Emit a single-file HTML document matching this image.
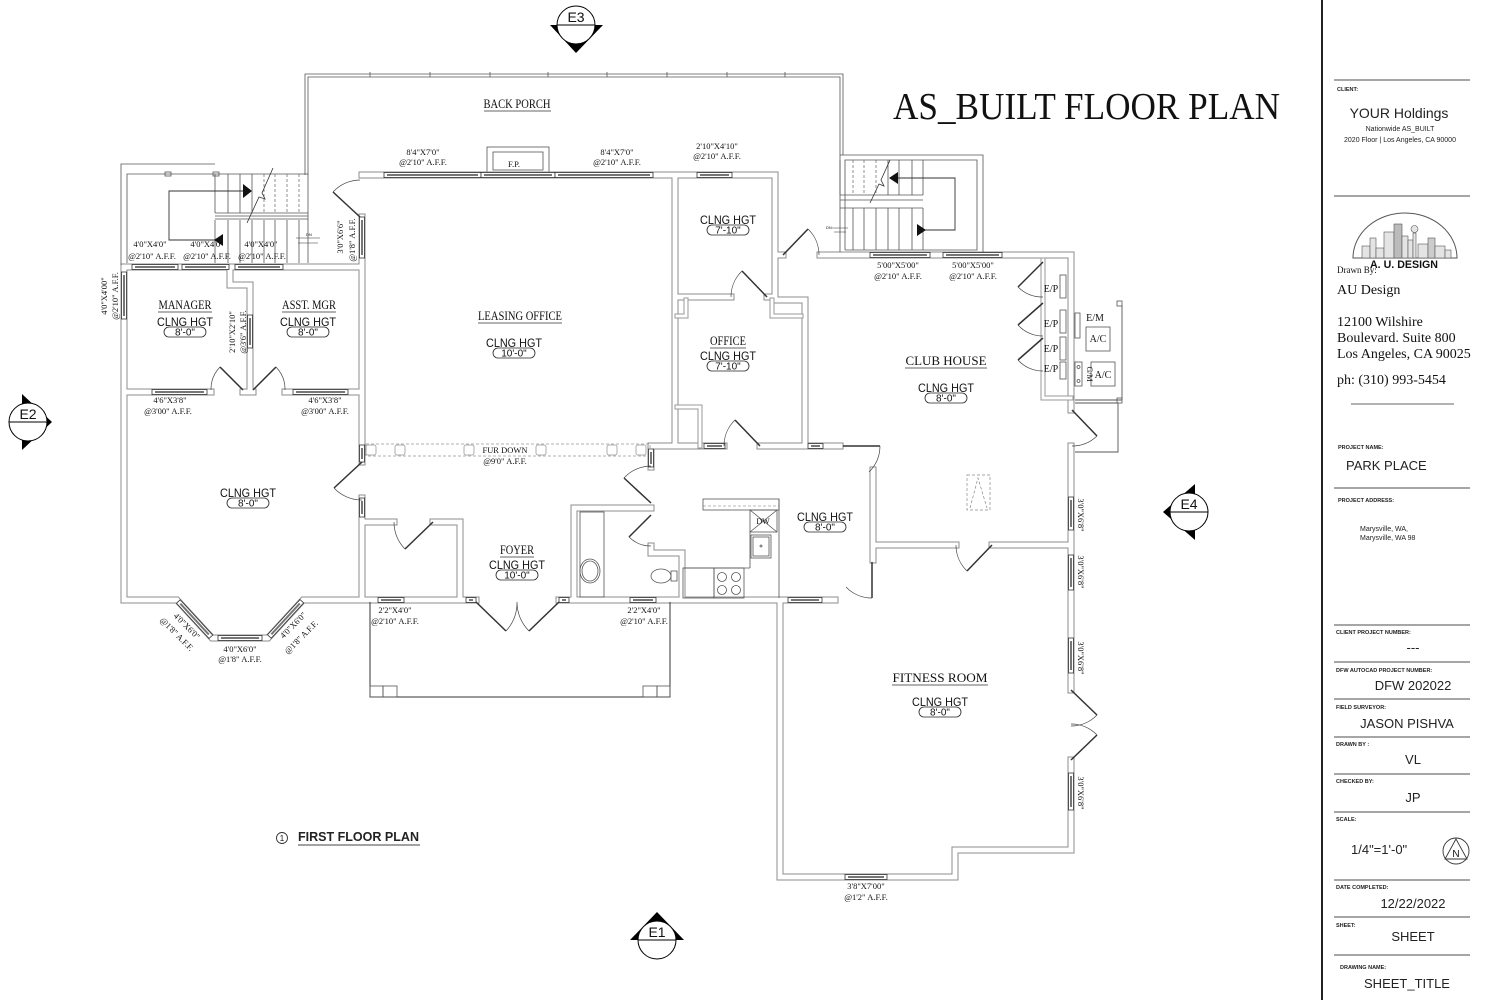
<!DOCTYPE html>
<html><head><meta charset="utf-8">
<style>
html,body{margin:0;padding:0;background:#fff;width:1499px;height:1000px;overflow:hidden}
svg{display:block}
.d{font-family:"Liberation Serif",serif;font-size:8.5px;fill:#111;text-anchor:middle}
.rn{font-family:"Liberation Serif",serif;font-size:13px;fill:#111;text-anchor:middle}
.cl{font-family:"Liberation Sans",sans-serif;font-size:12px;fill:#111;text-anchor:middle}
.cv{font-family:"Liberation Sans",sans-serif;font-size:10px;fill:#111;text-anchor:middle}
.lb{font-family:"Liberation Sans",sans-serif;font-size:5.5px;font-weight:bold;fill:#222}
.tv{font-family:"Liberation Sans",sans-serif;font-size:13px;fill:#222;text-anchor:middle}
.lf{fill:none;stroke:#333;stroke-width:1.5}
.ar{fill:none;stroke:#444;stroke-width:.7}
.tl{fill:none;stroke:#555;stroke-width:.8}
.win{fill:#fff;stroke:#333;stroke-width:.8}
.wc{fill:#777}
.pl{fill:none;stroke:#222;stroke-width:.8}
</style></head><body>
<svg width="1499" height="1000" viewBox="0 0 1499 1000">
<defs>
<path id="W" d="M124,600 V267 H362 M362,175 H775 V300 H805 V446 M362,217 V462 M362,498 V600 M124,600 H177 L212,638 H268 L303,600 H476 M559,600 H835 M675,175 V446 M675,297 H731 M767,297 H775 M651,446 H724 M760,446 H840 M651,446 V467 M651,546 V553 H682 V600 M775,255 H783 M820,255 H1071 V410 M1071,446 V690 M1071,760 V850 H955 V877 H780 V600 M873,470 V560 M873,545 H956 M992,545 H1071 M230,267 V285 H250 V392 M124,392 H211 M243,392 H253 M285,392 H362 M574,600 V508 H651 M366,522 H394 M433,522 H460 V600"/>
<path id="T" d="M1043,260 V398 H1071 M677,407 H700 V446 M677,316 H686 V300 M772,300 V316 H801"/>
</defs>
<rect width="1499" height="1000" fill="#fff"/>

<!-- back porch -->
<path d="M305,175 V74 H843 V155" class="tl"/>
<path d="M308,175 V77 H840 V155" class="tl"/>
<path d="M370,72V77M430,72V77M490,72V77M548,72V77M607,72V77M667,72V77M727,72V77M785,72V77" stroke="#555" stroke-width=".8"/>
<rect x="487" y="147" width="62" height="26" class="tl"/>
<rect x="493" y="152" width="50" height="18" class="tl"/>

<!-- walls -->
<use href="#W" fill="none" stroke="#8c8c8c" stroke-width="7" stroke-linecap="square"/>
<use href="#W" fill="none" stroke="#fff" stroke-width="5" stroke-linecap="square"/>
<use href="#T" fill="none" stroke="#999" stroke-width="5" stroke-linecap="square"/>
<use href="#T" fill="none" stroke="#fff" stroke-width="3" stroke-linecap="square"/>

<!-- left stair -->
<path d="M121,265 V164 H215" class="tl"/>
<path d="M127,263 V174 H308 V263" class="tl"/>
<rect x="165" y="172" width="6" height="4" class="tl"/><rect x="213" y="172" width="6" height="4" class="tl"/>
<path d="M215,174V213M228,174V213M240,174V213M252,174V213M215,220V263M228,220V263M240,220V263M252,220V263M264,220V263M275,220V263M287,220V263M299,220V263" stroke="#555" stroke-width=".8"/>
<path d="M264,174V213M275,174V213M287,174V213M299,174V213" stroke="#777" stroke-width=".8" stroke-dasharray="3,2"/>
<path d="M215,213H308M215,216H308M215,219H308" stroke="#555" stroke-width=".8"/>
<path d="M247,191 H169 V240 H218" fill="none" stroke="#333" stroke-width=".9"/>
<polygon points="243,184 252,191 243,198" fill="#111"/>
<polygon points="223,234 214,240 223,246" fill="#111"/>
<path d="M247,223 L259,197 L265,199 L262,193 L273,168" fill="none" stroke="#333" stroke-width=".8"/>
<path d="M296,238H320M298,243H318" stroke="#333" stroke-width=".6"/>
<text x="306" y="236" font-family="Liberation Sans,sans-serif" font-size="4" fill="#111">DN</text>

<!-- right stair -->
<path d="M840,252 V155 H983 V252" class="tl"/>
<path d="M845,250 V160 H977 V250 H845" class="tl"/>
<path d="M840,160V195M888,160V195M899,160V195M912,160V195M923,160V195M853,208V250M864,208V250M876,208V250M888,208V250M899,208V250M912,208V250M923,208V250" stroke="#555" stroke-width=".8"/>
<path d="M853,160V195M864,160V195M876,160V195" stroke="#777" stroke-width=".8" stroke-dasharray="3,2"/>
<path d="M840,195H923M840,200H923M840,208H923" stroke="#555" stroke-width=".8"/>
<path d="M893,178 H955 V230 H920" fill="none" stroke="#333" stroke-width=".9"/>
<polygon points="889,178 898,172 898,184" fill="#111"/>
<polygon points="926,230 917,224 917,236" fill="#111"/>
<path d="M870,203 L879,184 L884,186 L881,180 L890,160" fill="none" stroke="#333" stroke-width=".8"/>
<path d="M832,228H848M834,232H846" stroke="#333" stroke-width=".6"/>
<text x="826" y="229" font-family="Liberation Sans,sans-serif" font-size="4" fill="#111">DN</text>

<!-- fur down -->
<rect x="366" y="444" width="284" height="12" fill="none" stroke="#999" stroke-width=".8" stroke-dasharray="3,2"/>
<g fill="none" stroke="#999" stroke-width=".8">
<rect x="366" y="445" width="10" height="10" rx="2"/><rect x="395" y="445" width="10" height="10" rx="2"/><rect x="464" y="445" width="10" height="10" rx="2"/><rect x="536" y="445" width="10" height="10" rx="2"/><rect x="607" y="445" width="10" height="10" rx="2"/><rect x="636" y="445" width="10" height="10" rx="2"/>
</g>

<!-- front porch -->
<path d="M370,602 V697 H670 V602" fill="none" stroke="#333" stroke-width="1"/>
<g class="tl"><rect x="370" y="686" width="13" height="11"/><rect x="383" y="686" width="14" height="11"/><rect x="643" y="686" width="14" height="11"/><rect x="657" y="686" width="13" height="11"/></g>

<!-- bath / kitchen -->
<rect x="580" y="512" width="24" height="85" class="tl"/>
<ellipse cx="590" cy="571" rx="10" ry="12" class="tl"/><ellipse cx="590" cy="571" rx="8" ry="10" class="tl"/>
<ellipse cx="661" cy="576" rx="10" ry="7" class="tl"/><rect x="671" y="571" width="6" height="10" class="tl"/>
<rect x="703" y="499" width="76" height="11" class="tl"/>
<line x1="703" y1="506" x2="779" y2="506" stroke="#777" stroke-width=".6" stroke-dasharray="3,2"/>
<rect x="750" y="510" width="27" height="22" class="tl"/>
<path d="M750,510L777,532M777,510L750,532" class="tl"/>
<text x="763" y="524" font-family="Liberation Serif,serif" font-size="8" fill="#111" text-anchor="middle">DW</text>
<rect x="751" y="535" width="20" height="23" class="tl"/><rect x="753" y="537" width="16" height="19" class="tl"/><circle cx="761" cy="546" r="1" class="tl"/>
<path d="M779,499V598M750,532V568M683,568H750" class="tl"/>
<rect x="683" y="568" width="31" height="30" class="tl"/><rect x="714" y="568" width="30" height="30" class="tl"/>
<g class="tl"><circle cx="722" cy="577" r="4.5"/><circle cx="736" cy="577" r="4.5"/><circle cx="722" cy="590" r="4.5"/><circle cx="736" cy="590" r="4.5"/></g>

<!-- skylight -->
<rect x="967" y="475" width="23" height="35" fill="none" stroke="#888" stroke-width=".7" stroke-dasharray="3,2"/>
<path d="M970,508L978,478L987,508" fill="none" stroke="#888" stroke-width=".7" stroke-dasharray="3,2"/>

<!-- E/P & A/C -->
<g class="tl"><rect x="1060" y="275" width="6" height="23"/><rect x="1060" y="310" width="6" height="23"/><rect x="1060" y="337" width="6" height="23"/><rect x="1060" y="362" width="6" height="17"/>
<rect x="1075" y="313" width="5" height="25"/><rect x="1086" y="327" width="24" height="24"/><rect x="1091" y="362" width="24" height="24"/><rect x="1075" y="362" width="7" height="24"/>
<circle cx="1078.5" cy="367" r="1.5"/><circle cx="1078.5" cy="381" r="1.5"/>
<rect x="1117" y="301" width="5" height="5"/><rect x="1117" y="398" width="5" height="5"/></g>
<path d="M1122,305V400M1075,400H1122M1075,403H1118V452H1075" fill="none" stroke="#555" stroke-width=".9"/>

<!-- windows horizontal -->
<g>
<rect class="win" x="384" y="172.5" width="97" height="5"/><rect class="wc" x="387" y="174" width="91" height="2"/>
<rect class="win" x="481" y="172.5" width="74" height="5"/><rect class="wc" x="484" y="174" width="68" height="2"/>
<rect class="win" x="555" y="172.5" width="98" height="5"/><rect class="wc" x="558" y="174" width="92" height="2"/>
<rect class="win" x="697" y="172.5" width="35" height="5"/><rect class="wc" x="700" y="174" width="29" height="2"/>
<rect class="win" x="132" y="264.5" width="46" height="5"/><rect class="wc" x="135" y="266" width="40" height="2"/>
<rect class="win" x="182" y="264.5" width="47" height="5"/><rect class="wc" x="185" y="266" width="41" height="2"/>
<rect class="win" x="235" y="264.5" width="48" height="5"/><rect class="wc" x="238" y="266" width="42" height="2"/>
<rect class="win" x="152" y="389.5" width="55" height="5"/><rect class="wc" x="155" y="391" width="49" height="2"/>
<rect class="win" x="293" y="389.5" width="55" height="5"/><rect class="wc" x="296" y="391" width="49" height="2"/>
<rect class="win" x="378" y="597.5" width="26" height="5"/><rect class="wc" x="381" y="599" width="20" height="2"/>
<rect class="win" x="630" y="597.5" width="26" height="5"/><rect class="wc" x="633" y="599" width="20" height="2"/>
<rect class="win" x="466" y="597.5" width="10" height="5"/><rect class="wc" x="469" y="599" width="4" height="2"/>
<rect class="win" x="559" y="597.5" width="10" height="5"/><rect class="wc" x="562" y="599" width="4" height="2"/>
<rect class="win" x="218" y="635.5" width="44" height="5"/><rect class="wc" x="221" y="637" width="38" height="2"/>
<rect class="win" x="704" y="443.5" width="21" height="5"/><rect class="wc" x="707" y="445" width="15" height="2"/>
<rect class="win" x="808" y="443.5" width="15" height="5"/><rect class="wc" x="811" y="445" width="9" height="2"/>
<rect class="win" x="870" y="252.5" width="60" height="5"/><rect class="wc" x="873" y="254" width="54" height="2"/>
<rect class="win" x="943" y="252.5" width="59" height="5"/><rect class="wc" x="946" y="254" width="53" height="2"/>
<rect class="win" x="788" y="597.5" width="34" height="5"/><rect class="wc" x="791" y="599" width="28" height="2"/>
<rect class="win" x="845" y="874.5" width="42" height="5"/><rect class="wc" x="848" y="876" width="36" height="2"/>
</g>
<!-- windows vertical -->
<g>
<rect class="win" x="121.5" y="272" width="5" height="47"/><rect class="wc" x="123" y="275" width="2" height="41"/>
<rect class="win" x="247.5" y="315" width="5" height="33"/><rect class="wc" x="249" y="318" width="2" height="27"/>
<rect class="win" x="359.5" y="217" width="5" height="41"/><rect class="wc" x="361" y="220" width="2" height="35"/>
<rect class="win" x="359.5" y="445" width="5" height="17"/><rect class="wc" x="361" y="448" width="2" height="11"/>
<rect class="win" x="359.5" y="498" width="5" height="19"/><rect class="wc" x="361" y="501" width="2" height="13"/>
<rect class="win" x="648.5" y="449" width="5" height="18"/><rect class="wc" x="650" y="452" width="2" height="12"/>
<rect class="win" x="1068.5" y="497" width="5" height="33"/><rect class="wc" x="1070" y="500" width="2" height="27"/>
<rect class="win" x="1068.5" y="555" width="5" height="35"/><rect class="wc" x="1070" y="558" width="2" height="29"/>
<rect class="win" x="1068.5" y="638" width="5" height="35"/><rect class="wc" x="1070" y="641" width="2" height="29"/>
<rect class="win" x="1068.5" y="773" width="5" height="37"/><rect class="wc" x="1070" y="776" width="2" height="31"/>
</g>
<g transform="translate(177,600) rotate(47.4)"><rect class="win" x="2" y="-2.5" width="48" height="5"/><rect class="wc" x="5" y="-1" width="42" height="2"/></g>
<g transform="translate(268,638) rotate(-47.4)"><rect class="win" x="2" y="-2.5" width="48" height="5"/><rect class="wc" x="5" y="-1" width="42" height="2"/></g>

<!-- doors -->
<path class="lf" d="M360,217 L333,192 M243,390 L220,367 M253,390 L276,367 M362,462 L334,488 M433,522 L405,549 M476,602 L506,631 M559,602 L529,631 M651,503 L624,478 M651,515 L629,537 M760,446 L735,420 M767,297 L742,271 M783,255 L808,229 M843,446 L880,446 M872,562 L872,598 M992,545 L967,571 M1072,410 L1097,436 M1071,690 L1097,715 M1071,760 L1097,735 M1043,262 L1018,287 M1043,303 L1018,325 M1043,338 L1018,360"/>
<path class="ar" d="M333,192 A37,37 0 0 1 360,180 M220,367 A32,32 0 0 0 211,390 M276,367 A32,32 0 0 1 285,390 M334,488 A38,38 0 0 0 362,500 M405,549 A39,39 0 0 1 394,522 M506,631 A42,42 0 0 0 517,602 M529,631 A42,42 0 0 1 517,602 M624,478 A37,37 0 0 1 651,466 M629,537 A31,31 0 0 0 651,546 M735,420 A36,36 0 0 0 724,446 M742,271 A36,36 0 0 0 731,297 M808,229 A36,36 0 0 1 819,255 M880,446 A37,37 0 0 1 869,472 M872,598 A36,36 0 0 1 846,587 M967,571 A36,36 0 0 1 956,545 M1097,436 A36,36 0 0 1 1072,446 M1097,715 A36,36 0 0 1 1071,726 M1097,735 A36,36 0 0 0 1071,724 M1018,287 A35,35 0 0 0 1043,297 M1018,325 A33,33 0 0 0 1043,336 M1018,360 A33,33 0 0 0 1043,371"/>

<!-- room names -->
<g class="rn">
<text x="517" y="108" textLength="67" lengthAdjust="spacingAndGlyphs">BACK PORCH</text>
<text x="520" y="320" textLength="84" lengthAdjust="spacingAndGlyphs">LEASING OFFICE</text>
<text x="185" y="309" textLength="53" lengthAdjust="spacingAndGlyphs">MANAGER</text>
<text x="309" y="309" textLength="54" lengthAdjust="spacingAndGlyphs">ASST. MGR</text>
<text x="728" y="345" textLength="36" lengthAdjust="spacingAndGlyphs">OFFICE</text>
<text x="517" y="554" textLength="34" lengthAdjust="spacingAndGlyphs">FOYER</text>
<text x="946" y="365" textLength="81" lengthAdjust="spacingAndGlyphs">CLUB HOUSE</text>
<text x="940" y="682" textLength="95" lengthAdjust="spacingAndGlyphs">FITNESS ROOM</text>
</g>
<path d="M484,111H551M478,323H562M158,312H212M282,312H336M710,348H746M500,557H534M905,368H987M892,685H988" stroke="#333" stroke-width=".8"/>

<!-- ceiling heights -->
<g>
<text class="cl" x="185" y="326" textLength="56" lengthAdjust="spacingAndGlyphs">CLNG HGT</text><rect class="pl" x="164" y="327" width="42" height="10" rx="5"/><text class="cv" x="185" y="335.5">8'-0"</text>
<text class="cl" x="308" y="326" textLength="56" lengthAdjust="spacingAndGlyphs">CLNG HGT</text><rect class="pl" x="287" y="327" width="42" height="10" rx="5"/><text class="cv" x="308" y="335.5">8'-0"</text>
<text class="cl" x="248" y="497" textLength="56" lengthAdjust="spacingAndGlyphs">CLNG HGT</text><rect class="pl" x="227" y="498" width="42" height="10" rx="5"/><text class="cv" x="248" y="506.5">8'-0"</text>
<text class="cl" x="514" y="347" textLength="56" lengthAdjust="spacingAndGlyphs">CLNG HGT</text><rect class="pl" x="493" y="348" width="42" height="10" rx="5"/><text class="cv" x="514" y="356.5">10'-0"</text>
<text class="cl" x="728" y="224" textLength="56" lengthAdjust="spacingAndGlyphs">CLNG HGT</text><rect class="pl" x="707" y="225" width="42" height="10" rx="5"/><text class="cv" x="728" y="233.5">7'-10"</text>
<text class="cl" x="728" y="360" textLength="56" lengthAdjust="spacingAndGlyphs">CLNG HGT</text><rect class="pl" x="707" y="361" width="42" height="10" rx="5"/><text class="cv" x="728" y="369.5">7'-10"</text>
<text class="cl" x="517" y="569" textLength="56" lengthAdjust="spacingAndGlyphs">CLNG HGT</text><rect class="pl" x="496" y="570" width="42" height="10" rx="5"/><text class="cv" x="517" y="578.5">10'-0"</text>
<text class="cl" x="825" y="521" textLength="56" lengthAdjust="spacingAndGlyphs">CLNG HGT</text><rect class="pl" x="804" y="522" width="42" height="10" rx="5"/><text class="cv" x="825" y="530.5">8'-0"</text>
<text class="cl" x="946" y="392" textLength="56" lengthAdjust="spacingAndGlyphs">CLNG HGT</text><rect class="pl" x="925" y="393" width="42" height="10" rx="5"/><text class="cv" x="946" y="401.5">8'-0"</text>
<text class="cl" x="940" y="706" textLength="56" lengthAdjust="spacingAndGlyphs">CLNG HGT</text><rect class="pl" x="919" y="707" width="42" height="10" rx="5"/><text class="cv" x="940" y="715.5">8'-0"</text>
</g>

<!-- dimension labels -->
<g class="d">
<text x="514" y="167">F.P.</text>
<text x="423" y="155">8'4"X7'0"</text><text x="423" y="165">@2'10" A.F.F.</text>
<text x="617" y="155">8'4"X7'0"</text><text x="617" y="165">@2'10" A.F.F.</text>
<text x="717" y="149">2'10"X4'10"</text><text x="717" y="159">@2'10" A.F.F.</text>
<text x="150" y="247">4'0"X4'0"</text><text x="152" y="259">@2'10" A.F.F.</text>
<text x="207" y="247">4'0"X4'0"</text><text x="207" y="259">@2'10" A.F.F.</text>
<text x="261" y="247">4'0"X4'0"</text><text x="262" y="259">@2'10" A.F.F.</text>
<text x="170" y="403">4'6"X3'8"</text><text x="168" y="414">@3'00" A.F.F.</text>
<text x="325" y="403">4'6"X3'8"</text><text x="325" y="414">@3'00" A.F.F.</text>
<text x="240" y="652">4'0"X6'0"</text><text x="240" y="662">@1'8" A.F.F.</text>
<text x="395" y="613">2'2"X4'0"</text><text x="395" y="624">@2'10" A.F.F.</text>
<text x="644" y="613">2'2"X4'0"</text><text x="644" y="624">@2'10" A.F.F.</text>
<text x="898" y="268">5'00"X5'00"</text><text x="898" y="279">@2'10" A.F.F.</text>
<text x="973" y="268">5'00"X5'00"</text><text x="973" y="279">@2'10" A.F.F.</text>
<text x="866" y="889">3'8"X7'00"</text><text x="866" y="900">@1'2" A.F.F.</text>
<text x="505" y="453">FUR DOWN</text><text x="505" y="464">@9'0" A.F.F.</text>
<text transform="translate(107,296) rotate(-90)">4'0"X4'00"</text>
<text transform="translate(118,296) rotate(-90)">@2'10" A.F.F.</text>
<text transform="translate(343,237) rotate(-90)">3'0"X6'6"</text>
<text transform="translate(355,240) rotate(-90)">@1'8" A.F.F.</text>
<text transform="translate(235,332) rotate(-90)">2'10"X2'10"</text>
<text transform="translate(246,332) rotate(-90)">@3'6" A.F.F.</text>
<text transform="translate(187,626) rotate(45)" y="3">4'0"X6'0"</text>
<text transform="translate(177,634) rotate(45)" y="3">@1'8" A.F.F.</text>
<text transform="translate(293,625) rotate(-45)" y="3">4'0"X6'0"</text>
<text transform="translate(301,637) rotate(-45)" y="3">@1'8" A.F.F.</text>
<text transform="translate(1078,515) rotate(90)">3'0"X6'8"</text>
<text transform="translate(1078,572) rotate(90)">3'0"X6'8"</text>
<text transform="translate(1078,658) rotate(90)">3'0"X6'8"</text>
<text transform="translate(1078,793) rotate(90)">3'0"X6'8"</text>
</g>
<g font-family="Liberation Serif,serif" font-size="10" fill="#111" text-anchor="middle">
<text x="1051" y="292">E/P</text><text x="1051" y="327">E/P</text><text x="1051" y="352">E/P</text><text x="1051" y="372">E/P</text>
<text x="1095" y="321">E/M</text><text x="1098" y="342">A/C</text><text x="1103" y="378">A/C</text>
<text transform="translate(1087,374) rotate(90)" font-size="8">G/M</text>
</g>

<!-- main title -->
<text x="893" y="119" font-family="Liberation Serif,serif" font-size="38" fill="#111" textLength="387" lengthAdjust="spacingAndGlyphs">AS_BUILT FLOOR PLAN</text>

<!-- first floor plan -->
<circle cx="282" cy="838" r="5.5" fill="none" stroke="#333" stroke-width=".9"/>
<text x="282" y="841" font-family="Liberation Sans,sans-serif" font-size="8" fill="#111" text-anchor="middle">1</text>
<text x="298" y="841" font-family="Liberation Sans,sans-serif" font-size="13" font-weight="bold" fill="#222" textLength="121" lengthAdjust="spacingAndGlyphs">FIRST FLOOR PLAN</text>
<line x1="298" y1="845" x2="420" y2="845" stroke="#444" stroke-width="1"/>

<!-- elevation markers -->
<g font-family="Liberation Sans,sans-serif" font-size="14" fill="#111" text-anchor="middle">
<polygon points="550,25 603,25 576,53" fill="#000"/><circle cx="576" cy="25" r="19" fill="#fff" stroke="#000" stroke-width="1"/><line x1="557" y1="25" x2="595" y2="25" stroke="#000"/><text x="576" y="22">E3</text>
<polygon points="22,394 22,450 52,422" fill="#000"/><circle cx="28" cy="422" r="19" fill="#fff" stroke="#000" stroke-width="1"/><line x1="9" y1="422" x2="47" y2="422" stroke="#000"/><text x="28" y="419">E2</text>
<polygon points="1195,484 1195,540 1163,512" fill="#000"/><circle cx="1189" cy="512" r="19" fill="#fff" stroke="#000" stroke-width="1"/><line x1="1170" y1="512" x2="1208" y2="512" stroke="#000"/><text x="1189" y="509">E4</text>
<polygon points="630,940 684,940 657,912" fill="#000"/><circle cx="657" cy="940" r="19" fill="#fff" stroke="#000" stroke-width="1"/><line x1="638" y1="940" x2="676" y2="940" stroke="#000"/><text x="657" y="937">E1</text>
</g>

<!-- title block -->
<line x1="1322" y1="0" x2="1322" y2="1000" stroke="#222" stroke-width="2"/>
<path d="M1334,80H1470M1334,196H1470M1334,488H1470M1334,625H1470M1334,662H1470M1334,699H1470M1334,737H1470M1334,774H1470M1334,812H1470M1334,880H1470M1334,917H1470M1334,955H1470" stroke="#888" stroke-width="1.5"/>
<line x1="1351" y1="404" x2="1454" y2="404" stroke="#666" stroke-width="1"/>
<text class="lb" x="1337" y="91">CLIENT:</text>
<text x="1399" y="118" class="tv" font-size="14" style="font-size:14px">YOUR Holdings</text>
<text x="1400" y="131" font-family="Liberation Sans,sans-serif" font-size="7" fill="#222" text-anchor="middle">Nationwide AS_BUILT</text>
<text x="1400" y="142" font-family="Liberation Sans,sans-serif" font-size="7" fill="#222" text-anchor="middle">2020 Floor | Los Angeles, CA 90000</text>
<!-- logo -->
<path d="M1353,258 A52,45 0 0 1 1457,258 Z" fill="none" stroke="#555" stroke-width="1"/>
<g fill="#e4e4e4" stroke="#555" stroke-width=".6">
<rect x="1362" y="246" width="8" height="12"/><rect x="1370" y="238" width="6" height="20"/><rect x="1376" y="248" width="8" height="10"/><rect x="1384" y="232" width="10" height="26"/><rect x="1394" y="224" width="8" height="34" fill="#bbb"/><rect x="1402" y="236" width="6" height="22"/><rect x="1408" y="240" width="5" height="18"/><rect x="1413" y="233" width="3" height="25"/><circle cx="1414.5" cy="229" r="3.5"/><rect x="1418" y="244" width="10" height="14"/><rect x="1428" y="238" width="7" height="20" fill="#ccc"/><rect x="1435" y="246" width="10" height="12"/><rect x="1445" y="250" width="6" height="8"/>
</g>
<text x="1370" y="268" font-family="Liberation Sans,sans-serif" font-size="11" font-weight="bold" fill="#111" textLength="68" lengthAdjust="spacingAndGlyphs">A. U. DESIGN</text>
<text x="1337" y="273" font-family="Liberation Serif,serif" font-size="9" fill="#111">Drawn By:</text>
<g font-family="Liberation Serif,serif" font-size="14" fill="#111">
<text x="1337" y="294">AU Design</text>
<text x="1337" y="326">12100 Wilshire</text>
<text x="1337" y="342">Boulevard. Suite 800</text>
<text x="1337" y="358">Los Angeles, CA 90025</text>
<text x="1337" y="384">ph: (310) 993-5454</text>
</g>
<text class="lb" x="1338" y="449">PROJECT NAME:</text>
<text x="1346" y="470" font-family="Liberation Sans,sans-serif" font-size="13" fill="#222">PARK PLACE</text>
<text class="lb" x="1338" y="502">PROJECT ADDRESS:</text>
<text x="1360" y="531" font-family="Liberation Sans,sans-serif" font-size="7" fill="#222">Marysville, WA,</text>
<text x="1360" y="540" font-family="Liberation Sans,sans-serif" font-size="7" fill="#222">Marysville, WA 98</text>
<text class="lb" x="1336" y="634">CLIENT PROJECT NUMBER:</text>
<text class="tv" x="1413" y="652">---</text>
<text class="lb" x="1336" y="672">DFW AUTOCAD PROJECT NUMBER:</text>
<text class="tv" x="1413" y="690">DFW 202022</text>
<text class="lb" x="1336" y="709">FIELD SURVEYOR:</text>
<text class="tv" x="1407" y="728">JASON PISHVA</text>
<text class="lb" x="1336" y="746">DRAWN BY :</text>
<text class="tv" x="1413" y="764">VL</text>
<text class="lb" x="1336" y="783">CHECKED BY:</text>
<text class="tv" x="1413" y="802">JP</text>
<text class="lb" x="1336" y="821">SCALE:</text>
<text x="1351" y="854" font-family="Liberation Sans,sans-serif" font-size="13" fill="#222">1/4"=1'-0"</text>
<circle cx="1456" cy="851" r="13" fill="none" stroke="#333" stroke-width=".9"/>
<polygon points="1456,839 1445,859 1467,859" fill="none" stroke="#333" stroke-width=".9"/>
<text x="1456" y="857" font-family="Liberation Sans,sans-serif" font-size="10" fill="#111" text-anchor="middle">N</text>
<text class="lb" x="1336" y="889">DATE COMPLETED:</text>
<text class="tv" x="1413" y="908">12/22/2022</text>
<text class="lb" x="1336" y="927">SHEET:</text>
<text class="tv" x="1413" y="941">SHEET</text>
<text class="lb" x="1340" y="969">DRAWING NAME:</text>
<text class="tv" x="1407" y="988">SHEET_TITLE</text>
</svg>
</body></html>
